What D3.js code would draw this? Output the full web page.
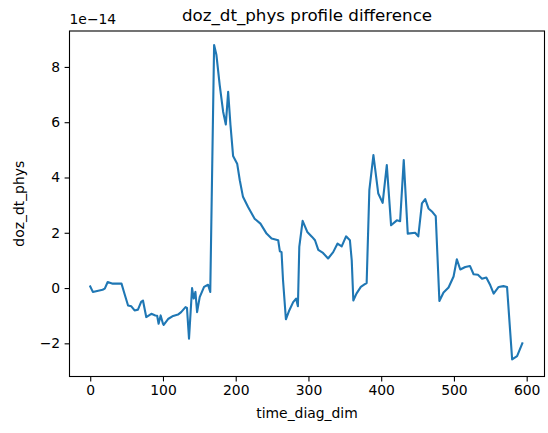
<!DOCTYPE html>
<html>
<head>
<meta charset="utf-8">
<script src="https://cdn.jsdelivr.net/npm/d3@7"></script>
<style>
  html, body { margin: 0; padding: 0; background: #fff; }
  svg text { font-family: "DejaVu Sans", sans-serif; fill: #000; }
</style>
</head>
<body>
<svg id="chart" width="548" height="433"></svg>
<script>
// ---- data (y values in units of 1e-14) ----
const timeIndex = [0, 3.6, 17, 20, 24, 31, 43, 47, 52, 56.5, 61, 65.6, 70, 72.5, 77, 84, 89.5, 92, 94, 96.8,
  100, 101, 107, 114, 120.7, 125, 131, 133, 135.8, 140, 142.3, 144.6, 146.9, 150.5, 156.5, 162, 165,
  170.3, 173.5, 178, 182.7, 186.4, 189.6, 192.8, 196.4, 202, 205.6, 210, 217, 226, 234, 242.4, 249.3,
  258.4, 260.7, 263, 265, 269, 273.6, 279, 283, 285.5, 287.4, 292, 298.4, 305, 309, 313.5, 320, 327,
  334, 340, 345.7, 351.7, 357, 359.5, 361.7, 366, 372, 377, 380, 383.7, 389.3, 396, 402, 407.7, 413.6,
  421.5, 426, 431, 436.5, 446.7, 451, 456, 460.5, 465, 470.5, 475, 480, 485.7, 492.6, 499.5, 504, 508.7,
  515.6, 522, 527, 533, 538.6, 544.5, 550, 554.6, 561.5, 568, 573, 580, 586.8, 594];
const dozDtPhys = [0.06, -0.14, -0.06, -0.02, 0.22, 0.16, 0.16, -0.2, -0.63, -0.66, -0.81, -0.78, -0.5, -0.45,
  -1.05, -0.93, -0.99, -1.0, -1.29, -0.99, -1.29, -1.33, -1.12, -1.01, -0.96, -0.87, -0.69, -0.72, -1.83,
  0.0, -0.38, -0.14, -0.87, -0.33, 0.04, 0.12, -0.14, 8.79, 8.43, 7.34, 6.38, 5.92, 7.1, 5.9, 4.78, 4.5,
  3.9, 3.3, 2.93, 2.51, 2.33, 1.97, 1.79, 1.73, 1.33, 1.3, 0.3, -1.13, -0.81, -0.51, -0.38, -0.66, 1.49,
  2.43, 2.03, 1.85, 1.73, 1.38, 1.27, 1.07, 1.3, 1.61, 1.51, 1.87, 1.73, 1.0, -0.45, -0.2, 0.04, 0.13,
  0.18, 3.54, 4.81, 3.42, 3.08, 4.45, 2.27, 2.45, 2.42, 4.63, 1.97, 2.0, 1.87, 3.06, 3.22, 2.88, 2.75,
  2.6, -0.47, -0.16, 0.02, 0.42, 1.04, 0.67, 0.76, 0.8, 0.5, 0.48, 0.34, 0.38, 0.1, -0.2, 0.04, 0.07,
  0.04, -2.58, -2.46, -2.0];
const xTicks = [0, 100, 200, 300, 400, 500, 600];
const yTicks = [-2, 0, 2, 4, 6, 8];
const offsetText = "1e\u221214";
const titleText = "doz_dt_phys profile difference";
const xLabelText = "time_diag_dim";
const yLabelText = "doz_dt_phys";

// ---- layout ----
const mLeft = 69.5, mRight = 544.5, mTop = 31, mBottom = 376.5;
const svg = d3.select("#chart");

const x = d3.scaleLinear().domain([-28.5, 624.5]).range([mLeft, mRight]);
const y = d3.scaleLinear().domain([-3.2, 9.3]).range([mBottom, mTop]);

const fmt = d => (d < 0 ? "\u2212" + Math.abs(d) : String(d));

const xAxis = svg.append("g")
  .attr("transform", `translate(0,${mBottom})`)
  .call(d3.axisBottom(x).tickValues(xTicks).tickSize(4.9).tickPadding(3.5).tickFormat(fmt));
const yAxis = svg.append("g")
  .attr("transform", `translate(${mLeft},0)`)
  .call(d3.axisLeft(y).tickValues(yTicks).tickSize(4.9).tickPadding(4.5).tickFormat(fmt));

[xAxis, yAxis].forEach(g => {
  g.select(".domain").remove();
  g.selectAll(".tick line").attr("stroke", "#000").attr("stroke-width", 1.1);
  g.selectAll(".tick text").attr("font-size", "13.9px").attr("fill", "#000")
    .style("font-family", "'DejaVu Sans', sans-serif");
});

// line
const pts = timeIndex.map((t, i) => [t, dozDtPhys[i]]);
svg.append("path")
  .datum(pts)
  .attr("fill", "none")
  .attr("stroke", "#1f77b4")
  .attr("stroke-width", 2.1)
  .attr("stroke-linejoin", "round")
  .attr("stroke-linecap", "square")
  .attr("d", d3.line().x(d => x(d[0])).y(d => y(d[1])));

// frame
svg.append("rect")
  .attr("x", mLeft).attr("y", mTop)
  .attr("width", mRight - mLeft).attr("height", mBottom - mTop)
  .attr("fill", "none").attr("stroke", "#000").attr("stroke-width", 1.1);

// texts
svg.append("text").attr("x", (mLeft + mRight) / 2).attr("y", 20.5)
  .attr("text-anchor", "middle").attr("font-size", "16.7px").text(titleText);
svg.append("text").attr("x", mLeft).attr("y", 24)
  .attr("text-anchor", "start").attr("font-size", "13.9px").text(offsetText);
svg.append("text").attr("x", (mLeft + mRight) / 2).attr("y", 418)
  .attr("text-anchor", "middle").attr("font-size", "13.9px").text(xLabelText);
svg.append("text")
  .attr("transform", `translate(24,${(mTop + mBottom) / 2}) rotate(-90)`)
  .attr("text-anchor", "middle").attr("font-size", "13.9px").text(yLabelText);
</script>
</body>
</html>
